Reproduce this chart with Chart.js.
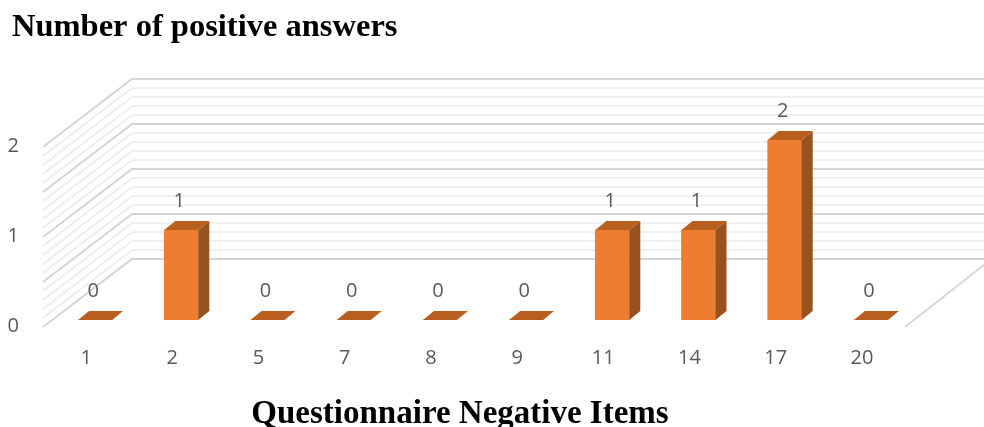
<!DOCTYPE html>
<html>
<head>
<meta charset="utf-8">
<style>
  html, body { margin: 0; padding: 0; background: #fff; }
  canvas { display: block; filter: blur(0.6px); }
</style>
<script src="https://cdn.jsdelivr.net/npm/chart.js@4"></script>
</head>
<body>
<canvas id="chart" width="984" height="427"></canvas>
<script>
const categories = ['1', '2', '5', '7', '8', '9', '11', '14', '17', '20'];
const positiveAnswers = [0, 1, 0, 0, 0, 0, 1, 1, 2, 0];
const yTicks = [0, 1, 2];
const chartTitle = 'Number of positive answers';
const xTitle = 'Questionnaire Negative Items';

// Fake 3D walls and bar sides, Chart.js has no 3D bars
const depth3d = {
  id: 'depth3d',
  beforeDatasetsDraw(chart) {
    const { ctx, chartArea, scales } = chart;
    const y = scales.y;
    ctx.save();
    for (let i = 0; i <= 20; i++) {
      const py = y.getPixelForValue(i / 10);
      const major = i % 5 === 0;
      ctx.strokeStyle = major ? '#d4d4d4' : '#ececec';
      ctx.lineWidth = major ? 2 : 1.6;
      ctx.beginPath();
      ctx.moveTo(43, py + 7);
      ctx.lineTo(132, py - 61);
      ctx.lineTo(984, py - 61);
      ctx.stroke();
    }
    // floor edge on the right
    ctx.strokeStyle = '#d4d4d4';
    ctx.lineWidth = 1.6;
    ctx.beginPath();
    ctx.moveTo(905, chartArea.bottom + 7);
    ctx.lineTo(984, chartArea.bottom - 55);
    ctx.stroke();
    ctx.restore();
  },
  afterDatasetsDraw(chart) {
    const { ctx } = chart;
    const dx = 11, dy = 9;
    ctx.save();
    chart.getDatasetMeta(0).data.forEach((bar, i) => {
      const l = bar.x - bar.width / 2, r = bar.x + bar.width / 2;
      // side face
      ctx.fillStyle = '#97521f';
      ctx.beginPath();
      ctx.moveTo(r, bar.y);
      ctx.lineTo(r + dx, bar.y - dy);
      ctx.lineTo(r + dx, bar.base - dy);
      ctx.lineTo(r, bar.base);
      ctx.closePath();
      ctx.fill();
      // top face
      ctx.fillStyle = '#b85f1f';
      ctx.beginPath();
      ctx.moveTo(l, bar.y);
      ctx.lineTo(l + dx, bar.y - dy);
      ctx.lineTo(r + dx, bar.y - dy);
      ctx.lineTo(r, bar.y);
      ctx.closePath();
      ctx.fill();
      // value label
      ctx.fillStyle = '#595959';
      ctx.font = '20px "Open Sans"';
      ctx.textAlign = 'center';
      ctx.textBaseline = 'middle';
      ctx.fillText(String(positiveAnswers[i]), bar.x - 2, bar.y - 29);
    });
    // titles sit off-centre in the original, so they are placed by hand
    ctx.fillStyle = '#000';
    ctx.textBaseline = 'middle';
    ctx.font = 'bold 32.5px "Liberation Serif"';
    ctx.textAlign = 'left';
    ctx.fillText(chartTitle, 12, 28);
    ctx.font = 'bold 33px "Liberation Serif"';
    ctx.textAlign = 'center';
    ctx.fillText(xTitle, 460, 414);
    ctx.restore();
  }
};

new Chart(document.getElementById('chart').getContext('2d'), {
  type: 'bar',
  data: {
    labels: categories,
    datasets: [{
      data: positiveAnswers,
      backgroundColor: '#ed7d31',
      barThickness: 34,
    }],
  },
  options: {
    responsive: false,
    animation: false,
    layout: { padding: { left: 0, right: 70, top: 140, bottom: 0 } },
    plugins: {
      legend: { display: false },
      tooltip: { enabled: false },
    },
    scales: {
      x: {
        grid: { display: false },
        border: { display: false },
        afterFit(scale) { scale.height = 107; },
        ticks: {
          color: '#595959',
          font: { family: '"Open Sans"', size: 20 },
          labelOffset: -9,
          padding: 18,
          maxRotation: 0,
        },
      },
      y: {
        min: 0,
        max: 2,
        grid: { display: false },
        border: { display: false },
        afterFit(scale) { scale.width = 52; },
        afterBuildTicks(scale) { scale.ticks = yTicks.map(v => ({ value: v })); },
        ticks: {
          color: '#595959',
          font: { family: '"Open Sans"', size: 20 },
          labelOffset: 6,
          padding: 25,
        },
      },
    },
  },
  plugins: [depth3d],
});
</script>
</body>
</html>
